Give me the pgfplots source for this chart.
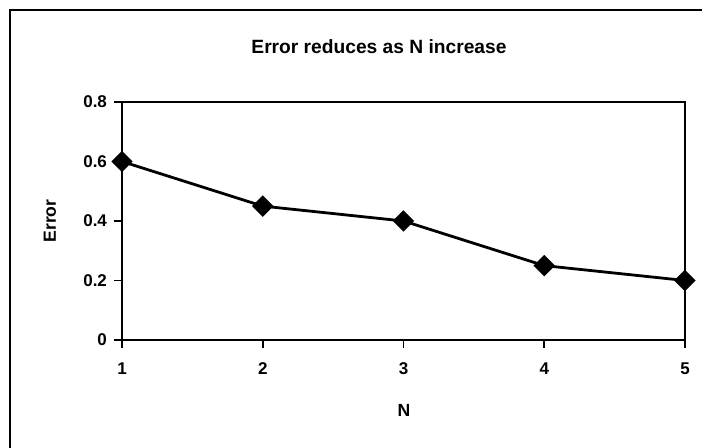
\documentclass[border=0pt]{standalone}
\usepackage{pgfplots}
\pgfplotsset{compat=1.18}
\usepackage{fontspec}
\setmainfont{Liberation Sans}

\begin{document}
\begin{tikzpicture}[x=1pt,y=1pt]
  % fixed canvas 351pt x 224pt
  \useasboundingbox (0,0) rectangle (351,224);
  % chart frame (left and top edges)
  \draw[line width=1.1pt] (5,0) -- (5,219) -- (351,219);

  \begin{axis}[
    at={(61pt,54pt)}, anchor=south west,
    scale only axis,
    width=281.5pt, height=119pt,
    xmin=1, xmax=5, ymin=0, ymax=0.8,
    xtick={1,2,3,4,5},
    ytick={0,0.2,0.4,0.6,0.8},
    yticklabels={0,0.2,0.4,0.6,0.8},
    xtick pos=bottom, ytick pos=left,
    tick align=outside,
    major tick length=4pt,
    axis line style={line width=1pt},
    every tick/.style={black, line width=0.9pt},
    /pgf/number format/assume math mode=true,
    tick label style={font=\fontsize{8.5}{10}\selectfont\bfseries},
    xticklabel style={yshift=-4pt},
    yticklabel style={xshift=0pt},
  ]
    \addplot[black, line width=1.4pt, mark=square*,
             mark size=3.1pt, mark options={rotate=45, solid}]
      coordinates {(1,0.6) (2,0.45) (3,0.4) (4,0.25) (5,0.2)};
  \end{axis}

  % titles
  \node[font=\fontsize{9.6}{11}\selectfont\bfseries] at (189.5,200.5)
    {Error reduces as N increase};
  \node[font=\fontsize{8.8}{10}\selectfont\bfseries, rotate=90] at (25,113.5) {Error};
  \node[font=\fontsize{8.8}{10}\selectfont\bfseries] at (202,19) {N};
\end{tikzpicture}
\end{document}
